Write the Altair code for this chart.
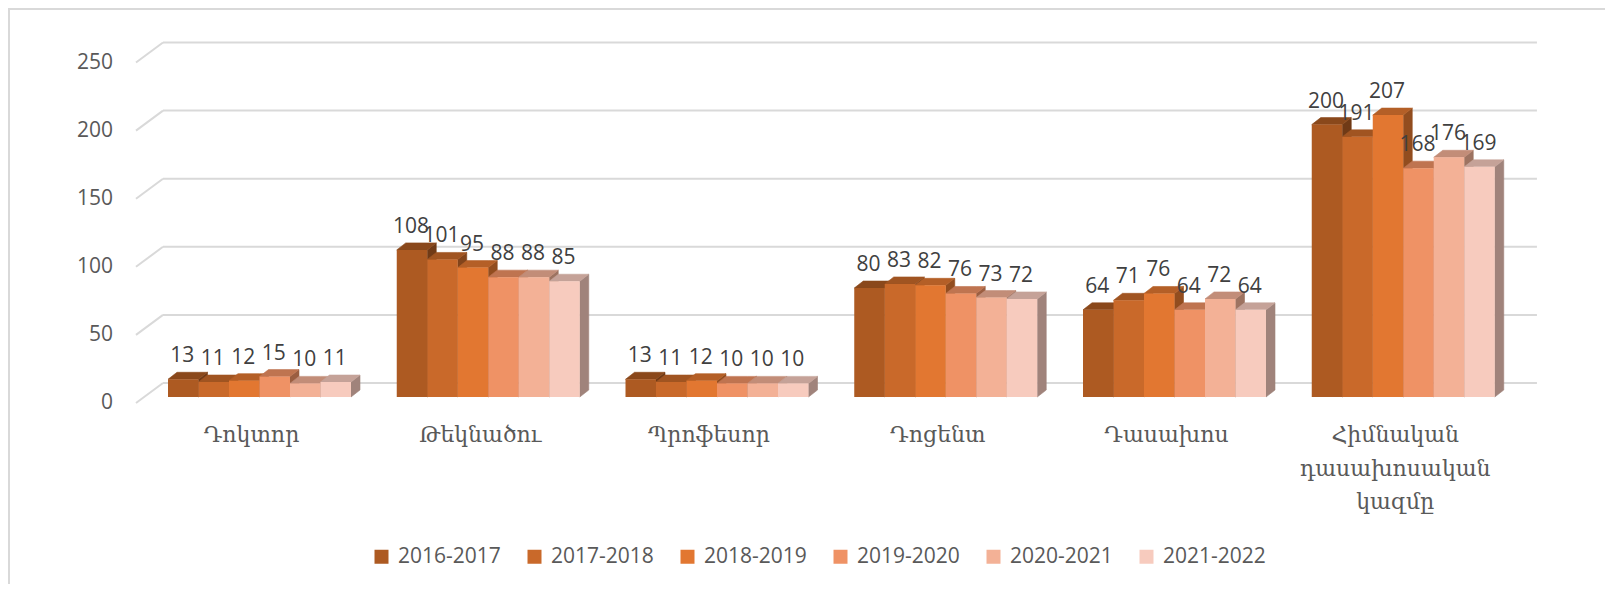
import altair as alt
import pandas as pd

# ---------------- data ----------------
categories = ["Դոկտոր", "Թեկնածու", "Պրոֆեսոր", "Դոցենտ", "Դասախոս",
              "Հիմնական դասախոսական կազմը"]
series = ["2016-2017", "2017-2018", "2018-2019", "2019-2020", "2020-2021", "2021-2022"]
v_2016_2017 = [13, 108, 13, 80, 64, 200]
v_2017_2018 = [11, 101, 11, 83, 71, 191]
v_2018_2019 = [12, 95, 12, 82, 76, 207]
v_2019_2020 = [15, 88, 10, 76, 64, 168]
v_2020_2021 = [10, 88, 10, 73, 72, 176]
v_2021_2022 = [11, 85, 10, 72, 64, 169]
y_ticks = [0, 50, 100, 150, 200, 250]

values = [v_2016_2017, v_2017_2018, v_2018_2019, v_2019_2020, v_2020_2021, v_2021_2022]
front_colors = ["#AD5A22", "#C9692A", "#E27731", "#EF9265", "#F3B196", "#F7CBBE"]


def shade(hex_color, f):
    h = hex_color.lstrip("#")
    r, g, b = (int(h[k:k + 2], 16) for k in (0, 2, 4))
    return "#%02X%02X%02X" % (int(r * f), int(g * f), int(b * f))


top_colors = [shade(c, 0.80) for c in front_colors]
side_colors = [shade(c, 0.65) for c in front_colors]

# ---------------- layout ----------------
W, H = 1597, 576
BAR_PX = 30.5          # pixel width of one bar (x unit = one bar width)
GROUP_STEP = 7.5       # group spacing in bar widths
X0_PX = 160            # pixel x of first bar's left edge
Y_PX = 1.362           # pixels per value unit
Y0_PX = 389            # pixel y of value 0 (front face)
DDX = 9 / BAR_PX       # bar depth, x
DDY = 7 / Y_PX         # bar depth, y
WALL_L = -24 / BAR_PX  # left wall position (in the bar front plane)
WALL_R = 44.26         # right end of back wall gridlines

XS = alt.Scale(domain=[-X0_PX / BAR_PX, (W - X0_PX) / BAR_PX], range=[0, W], nice=False, zero=False)
YS = alt.Scale(domain=[(Y0_PX - H) / Y_PX, Y0_PX / Y_PX], range=[H, 0], nice=False, zero=False)

front_rows, top_rows, side_rows = [], [], []
for i, cat in enumerate(categories):
    for j, s in enumerate(series):
        v = values[j][i]
        ul = GROUP_STEP * i + j
        ur = ul + 1
        bid = f"b{i}_{j}"
        front_rows.append(dict(cat=cat, series=s, ul=ul, ur=ur, uc=ul + 0.5, v=v, y0=0,
                               label=str(v)))
        for (u, yt, yb) in [(ul, v, v), (ul + DDX, v + DDY, v),
                            (ur, v + DDY, v), (ur + DDX, v + DDY, v + DDY)]:
            top_rows.append(dict(bid=bid, u=u, yt=yt, yb=yb, fc=top_colors[j]))
        for (u, yt, yb) in [(ur, v, 0), (ur + DDX, v + DDY, DDY)]:
            side_rows.append(dict(bid=bid, u=u, yt=yt, yb=yb, fc=side_colors[j]))

front_df = pd.DataFrame(front_rows)
top_df = pd.DataFrame(top_rows)
side_df = pd.DataFrame(side_rows)
grid_df = pd.DataFrame({"v": y_ticks, "u1": WALL_L, "u2": WALL_R,
                        "lab": [str(t) for t in y_ticks]})
cat_df = pd.DataFrame({"cat": categories,
                       "u": [GROUP_STEP * i + 3 for i in range(len(categories))],
                       "y0": 0})

GRID = "#D9D9D9"
NUM_FONT = "Open Sans"
CAT_FONT = "DejaVu Serif"

grid = alt.Chart(grid_df).mark_rule(color=GRID, strokeWidth=2, xOffset=19, x2Offset=19,
                                    yOffset=-14).encode(
    x=alt.X("u1:Q", scale=XS, axis=None), x2="u2:Q",
    y=alt.Y("v:Q", scale=YS, axis=None))

diag = alt.Chart(grid_df).mark_rule(color=GRID, strokeWidth=2, xOffset=-8, x2Offset=19,
                                    yOffset=6, y2Offset=-14).encode(
    x=alt.X("u1:Q", scale=XS, axis=None), x2="u1:Q",
    y=alt.Y("v:Q", scale=YS, axis=None), y2="v:Q")

ylabels = alt.Chart(grid_df).mark_text(align="right", baseline="middle", xOffset=-31,
                                       yOffset=6, font=NUM_FONT, fontSize=21,
                                       color="#595959").encode(
    x=alt.X("u1:Q", scale=XS, axis=None), y=alt.Y("v:Q", scale=YS, axis=None),
    text="lab:N")


def faces(df):
    return alt.Chart(df).mark_area(orient="vertical", strokeWidth=0.6, opacity=1).encode(
        x=alt.X("u:Q", scale=XS, axis=None),
        y=alt.Y("yt:Q", scale=YS, axis=None, stack=None), y2="yb:Q",
        detail="bid:N",
        fill=alt.Fill("fc:N", scale=None),
        stroke=alt.Stroke("fc:N", scale=None))


sides = faces(side_df)
tops = faces(top_df)

fronts = alt.Chart(front_df).mark_rect().encode(
    x=alt.X("ul:Q", scale=XS, axis=None), x2="ur:Q",
    y=alt.Y("v:Q", scale=YS, axis=None), y2="y0:Q",
    color=alt.Color("series:N", sort=series,
                    scale=alt.Scale(domain=series, range=front_colors),
                    legend=alt.Legend(orient="none", legendX=363, legendY=538,
                                      direction="horizontal", title=None,
                                      symbolType="square", symbolSize=196,
                                      symbolStrokeWidth=0, symbolOpacity=1,
                                      labelFont=NUM_FONT, labelFontSize=21,
                                      labelColor="#595959", labelOffset=6,
                                      columnPadding=23, padding=0)))

dlabels = alt.Chart(front_df).mark_text(baseline="alphabetic", dy=-17, xOffset=-1,
                                        font=NUM_FONT, fontSize=21,
                                        color="#404040").encode(
    x=alt.X("uc:Q", scale=XS, axis=None), y=alt.Y("v:Q", scale=YS, axis=None),
    text="label:N")

xlabels = alt.Chart(cat_df).mark_text(baseline="alphabetic", align="center", xOffset=-8,
                                      yOffset=45, lineBreak=" ", lineHeight=33.5,
                                      font=CAT_FONT, fontSize=22,
                                      color="#595959").encode(
    x=alt.X("u:Q", scale=XS, axis=None), y=alt.Y("y0:Q", scale=YS, axis=None),
    text="cat:N")

border_top = alt.Chart(grid_df).mark_rule(color=GRID, strokeWidth=2).encode(
    x=alt.value(0), x2=alt.value(W), y=alt.value(1))
border_left = alt.Chart(grid_df).mark_rule(color=GRID, strokeWidth=2).encode(
    x=alt.value(1), y=alt.value(0), y2=alt.value(H))

chart = alt.layer(grid, diag, ylabels, sides, tops, fronts, dlabels, xlabels,
                  border_top, border_left).properties(
    width=W, height=H, padding=0,
    autosize=alt.AutoSizeParams(type="none"),
    background="white",
).configure_view(stroke=None)

chart.save("out.html", embed_options={"renderer": "svg", "actions": False})
